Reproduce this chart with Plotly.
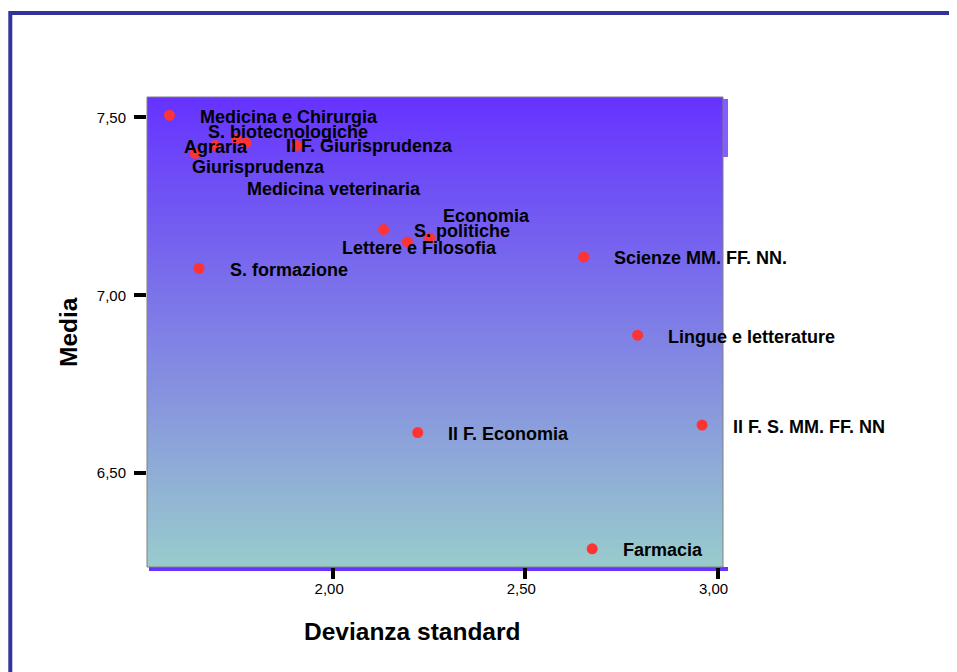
import base64
import struct
import zlib

import plotly.graph_objects as go

# ---------------- data ----------------
facolta = [
    "Medicina e Chirurgia", "Agraria", "Giurisprudenza", "S. biotecnologiche",
    "Medicina veterinaria", "Il F. Giurisprudenza", "S. politiche",
    "Lettere e Filosofia", "Economia", "S. formazione", "Scienze MM. FF. NN.",
    "Lingue e letterature", "Il F. Economia", "Il F. S. MM. FF. NN", "Farmacia",
]
dev_std = [1.574, 1.641, 1.693, 1.749, 1.773, 1.904, 2.131, 2.193, 2.251,
           1.651, 2.652, 2.792, 2.220, 2.960, 2.674]
media = [7.506, 7.399, 7.421, 7.440, 7.428, 7.421, 7.185, 7.150, 7.161,
         7.076, 7.108, 6.888, 6.614, 6.635, 6.287]

x_ticks = [2.0, 2.5, 3.0]
y_ticks = [6.5, 7.0, 7.5]
x_title = "Devianza standard"
y_title = "Media"

# ---------------- styling / label placement (pixels) ----------------
DEFAULT_OFF = (31, 1.5)
TEXT_PAD = 1.5  # annotation box padding compensation
label_off = {
    "Agraria": (-11, -6),
    "Giurisprudenza": (-23, 21),
    "S. biotecnologiche": (-28.7, -7.3),
    "Medicina veterinaria": (2, 45.6),
    "Il F. Giurisprudenza": (-9.3, 0.3),
    "Lettere e Filosofia": (-64.6, 5.6),
    "Economia": (13.4, -22.4),
}

# the page body adds an 8px offset, so positions are given in page px minus 8
OFF = 8
W, H = 957, 672
PLOT_L, PLOT_R, PLOT_T, PLOT_B = 147 - OFF, 723 - OFF, 97 - OFF, 567 - OFF
L, T = PLOT_L, PLOT_T
R, B = W - PLOT_R, H - PLOT_B
PW, PH = PLOT_R - PLOT_L, PLOT_B - PLOT_T
FONT = "Liberation Sans, Arial, sans-serif"


def px_x(page_x):
    return (page_x - OFF - PLOT_L) / PW


def px_y(page_y):
    return (PLOT_B - (page_y - OFF)) / PH


def gradient_png(top, bottom, h=256):
    raw = b""
    for i in range(h):
        t = i / (h - 1)
        c = bytes(int(round(top[k] + (bottom[k] - top[k]) * t)) for k in range(3))
        raw += b"\x00" + c

    def chunk(tag, data):
        return (struct.pack(">I", len(data)) + tag + data
                + struct.pack(">I", zlib.crc32(tag + data) & 0xFFFFFFFF))

    png = b"\x89PNG\r\n\x1a\n"
    png += chunk(b"IHDR", struct.pack(">IIBBBBB", 1, h, 8, 2, 0, 0, 0))
    png += chunk(b"IDAT", zlib.compress(raw, 9))
    png += chunk(b"IEND", b"")
    return "data:image/png;base64," + base64.b64encode(png).decode()


fig = go.Figure()
fig.add_trace(go.Scatter(
    x=dev_std, y=media, mode="markers",
    marker=dict(color="#FF3333", size=11, line=dict(width=0)),
    hoverinfo="text", text=facolta, showlegend=False,
))

annotations = []
for name, xv, yv in zip(facolta, dev_std, media):
    dx, dy = label_off.get(name, DEFAULT_OFF)
    annotations.append(dict(
        x=xv, y=yv, xref="x", yref="y", text="<b>" + name + "</b>",
        showarrow=False, xanchor="left", yanchor="middle",
        xshift=dx - TEXT_PAD, yshift=-dy, borderpad=0,
        font=dict(family=FONT, size=18, color="#000000"),
    ))

# axis titles
annotations.append(dict(
    x=px_x(412), y=px_y(631), xref="paper", yref="paper",
    text="<b>" + x_title + "</b>", showarrow=False, xanchor="center", yanchor="middle",
    font=dict(family=FONT, size=24.5, color="#000000"),
))
annotations.append(dict(
    x=px_x(68), y=px_y(332), xref="paper", yref="paper",
    text="<b>" + y_title + "</b>", showarrow=False, xanchor="center", yanchor="middle",
    textangle=-90, font=dict(family=FONT, size=24.5, color="#000000"),
))

shapes = [
    # outer blue frame
    dict(type="rect", xref="paper", yref="paper",
         x0=px_x(10.3), x1=px_x(1000), y0=px_y(720), y1=px_y(13),
         line=dict(color="#333399", width=4), fillcolor="rgba(0,0,0,0)", layer="below"),
    # bottom shadow strip
    dict(type="rect", xref="paper", yref="paper",
         x0=2 / PW, x1=1 + 5 / PW, y0=-4 / PH, y1=0,
         line=dict(width=0), fillcolor="#6633FF", layer="below"),
    # short right shadow strip near the top
    dict(type="rect", xref="paper", yref="paper",
         x0=1, x1=1 + 5 / PW, y0=1 - 60 / PH, y1=1 - 2 / PH,
         line=dict(width=0), fillcolor="rgba(102,51,255,0.8)", layer="below"),
    # plot border
    dict(type="rect", xref="paper", yref="paper", x0=0, x1=1, y0=0, y1=1,
         line=dict(color="#808080", width=1), fillcolor="rgba(0,0,0,0)", layer="above"),
]

fig.update_layout(
    width=W, height=H,
    margin=dict(l=L, r=R, t=T, b=B, pad=0),
    paper_bgcolor="#FFFFFF", plot_bgcolor="rgba(0,0,0,0)",
    separators=",.",
    font=dict(family=FONT, size=15, color="#000000"),
    images=[dict(source=gradient_png((102, 51, 255), (153, 204, 204)),
                 xref="paper", yref="paper", x=0, y=1, sizex=1, sizey=1,
                 xanchor="left", yanchor="top", sizing="stretch", layer="below")],
    shapes=shapes,
    annotations=annotations,
    xaxis=dict(range=[1.5156, 3.0143], tickvals=x_ticks, tickformat=".2f",
               ticks="outside", ticklen=11, tickwidth=4, tickcolor="#000000",
               showgrid=False, zeroline=False, showline=False,
               tickfont=dict(family=FONT, size=15, color="#000000"),
               ticklabelshift=-4, ticklabelstandoff=-3),
    yaxis=dict(range=[6.2360, 7.5576], tickvals=y_ticks, tickformat=".2f",
               ticks="outside", ticklen=12, tickwidth=4, tickcolor="#000000",
               showgrid=False, zeroline=False, showline=False,
               tickfont=dict(family=FONT, size=15, color="#000000"),
               ticklabelstandoff=5),
)

fig.write_html("out.html")
